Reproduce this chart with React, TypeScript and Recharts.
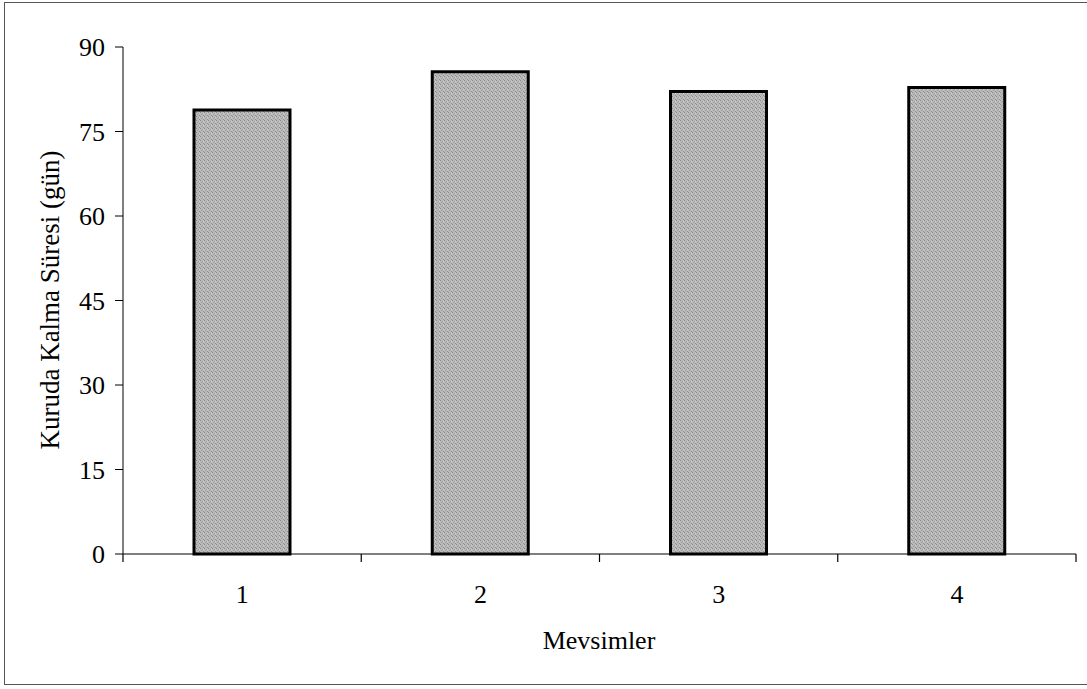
import React from 'react';
import { BarChart, Bar, XAxis, YAxis, Label } from 'recharts';

const seasons = ['1', '2', '3', '4'];
const dryDays = [78.8, 85.6, 82.1, 82.8];
const yTicks = [0, 15, 30, 45, 60, 75, 90];

const data = seasons.map((s, i) => ({ season: s, days: dryDays[i] }));

const FONT = '"Liberation Serif", "Times New Roman", serif';

const SeasonTick = (props: any) => {
  const { x, y, payload, index, visibleTicksCount } = props;
  const half = payload?.offset ?? 119;
  const isLast = visibleTicksCount ? index === visibleTicksCount - 1 : payload.value === seasons[seasons.length - 1];
  return (
    <g>
      <line x1={x - half} y1={y} x2={x - half} y2={y + 8} stroke="#000" strokeWidth={1.2} />
      {isLast && <line x1={x + half} y1={y} x2={x + half} y2={y + 8} stroke="#000" strokeWidth={1.2} />}
      <text x={x} y={y + 49} textAnchor="middle" fontSize={26} fontFamily={FONT} fill="#000">
        {payload.value}
      </text>
    </g>
  );
};

const App: React.FC = () => {
  return (
    <div style={{ position: 'absolute', left: 0, top: 0, width: 1087, height: 689, overflow: 'hidden', background: '#fff', fontFamily: FONT }}>
      <div style={{ position: 'absolute', left: 4, top: 2, width: 1100, height: 683, border: '1px solid #555', boxSizing: 'border-box' }} />
      <BarChart width={1087} height={689} data={data} margin={{ top: 47, right: 11, bottom: 35, left: 0 }} barSize={96}>
        <defs>
          <pattern id="grain" width="4" height="4" patternUnits="userSpaceOnUse">
            <rect width="4" height="4" fill="#bababa" />
            <rect x="0" y="0" width="1" height="1" fill="#8a8a8a" />
            <rect x="2" y="1" width="1" height="1" fill="#989898" />
            <rect x="1" y="2" width="1" height="1" fill="#a0a0a0" />
            <rect x="3" y="3" width="1" height="1" fill="#8e8e8e" />
            <rect x="3" y="1" width="1" height="1" fill="#d4d4d4" />
          </pattern>
        </defs>
        <XAxis
          dataKey="season"
          height={100}
          stroke="#000"
          tickLine={false}
          tickSize={0}
          tickMargin={0}
          tick={<SeasonTick />}
          interval={0}
        >
          <Label
            content={() => (
              <text x={599} y={649} textAnchor="middle" fontSize={26} fontFamily={FONT} fill="#000">
                Mevsimler
              </text>
            )}
          />
        </XAxis>
        <YAxis
          width={123}
          domain={[0, 90]}
          ticks={yTicks}
          stroke="#000"
          tickSize={8}
          tickMargin={10}
          tick={{ fill: '#000', fontSize: 26, fontFamily: FONT }}
        >
          <Label
            content={() => (
              <text transform="translate(50,300) rotate(-90)" x={0} y={9} textAnchor="middle" fontSize={27} fontFamily={FONT} fill="#000">
                Kuruda Kalma Süresi (gün)
              </text>
            )}
          />
        </YAxis>
        <Bar dataKey="days" fill="url(#grain)" stroke="#000" strokeWidth={3} isAnimationActive={false} />
      </BarChart>
    </div>
  );
};

export default App;
